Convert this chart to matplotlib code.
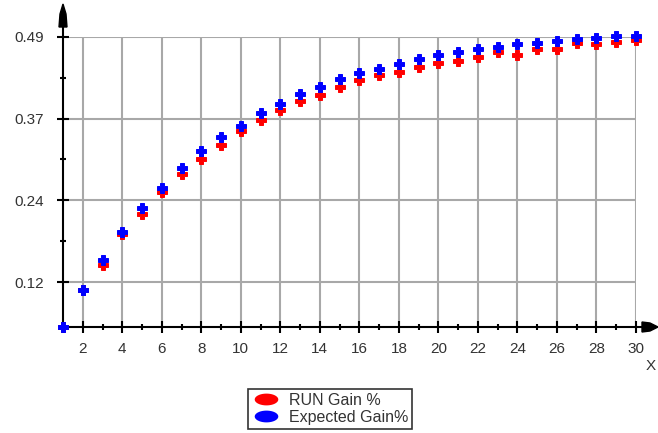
import numpy as np
import matplotlib
matplotlib.use("Agg")
import matplotlib.pyplot as plt
from matplotlib.lines import Line2D
from matplotlib.path import Path
from matplotlib.patches import Polygon

plt.rcParams['font.family'] = ['Liberation Sans', 'DejaVu Sans']

# data
x_vals = list(range(1, 31))
run_gain = [0.055, 0.110, 0.148, 0.194, 0.224, 0.257, 0.284, 0.307, 0.328, 0.349,
            0.365, 0.380, 0.394, 0.403, 0.415, 0.425, 0.433, 0.4375, 0.445, 0.451,
            0.454, 0.460, 0.4675, 0.463, 0.472, 0.472, 0.481, 0.4795, 0.4825, 0.4855]
expected_gain = [0.055, 0.110, 0.155, 0.197, 0.233, 0.263, 0.293, 0.319, 0.340, 0.3565,
                 0.376, 0.390, 0.404, 0.415, 0.427, 0.436, 0.442, 0.4495, 0.457, 0.463,
                 0.4675, 0.472, 0.475, 0.4795, 0.481, 0.484, 0.487, 0.4885, 0.4915, 0.4915]
y_ticks = [0.1225, 0.245, 0.3675, 0.49]
y_tick_labels = ["0.12", "0.24", "0.37", "0.49"]
x_ticks = list(range(2, 31, 2))
series_names = ["RUN Gain %", "Expected Gain%"]

W, H = 658, 433
fig = plt.figure(figsize=(6.58, 4.33), dpi=100)
ax = fig.add_axes([63/W, 106/H, (636-63)/W, (327-37)/H])

ax.plot(x_vals, run_gain, linestyle='none', marker='P', markersize=6.5,
        color='#ff0000', markeredgewidth=0.7, clip_on=False, zorder=3)
ax.plot(x_vals, expected_gain, linestyle='none', marker='P', markersize=6.5,
        color='#0000ff', markeredgewidth=0.7, clip_on=False, zorder=4)

ax.set_xlim(1, 30)
ax.set_ylim(0.055, 0.49)
ax.set_xticks(x_ticks)
ax.set_xticks(range(1, 31), minor=True)
ax.set_yticks(y_ticks)
ax.set_yticklabels(y_tick_labels)
ax.set_yticks([0.18375, 0.30625, 0.42875], minor=True)

ax.grid(True, which='major', color='#a8a8a8', linewidth=1.5)
ax.set_axisbelow(True)
for s in ['top', 'right']:
    ax.spines[s].set_visible(False)
for s in ['left', 'bottom']:
    ax.spines[s].set_linewidth(1.5)
    ax.spines[s].set_color('black')

ax.tick_params(which='major', direction='inout', length=9, width=1.5,
               labelsize=11, labelcolor='#333333')
ax.tick_params(which='minor', direction='inout', length=5, width=1.5)
ax.tick_params(axis='y', which='major', pad=9)
ax.tick_params(axis='x', which='major', pad=6)

# arrow heads on the axes (figure pixels)
def px(pts):
    return [(x / W, 1 - y / H) for x, y in pts]

fig.add_artist(Line2D([63/W, 63/W], [1 - 37/H, 1 - 24/H], color='black', lw=1.5))
fig.add_artist(Polygon(px([(63, 4), (60, 14), (59, 27), (67, 27), (66, 14)]),
                       closed=True, facecolor='black', edgecolor='black',
                       transform=fig.transFigure))
fig.add_artist(Line2D([636/W, 645/W], [1 - 327/H, 1 - 327/H], color='black', lw=1.5))
fig.add_artist(Polygon(px([(658, 327), (650, 323), (642, 322), (642, 332), (650, 331)]),
                       closed=True, facecolor='black', edgecolor='black',
                       transform=fig.transFigure))
fig.text(651/W, 1 - 366/H, "X", fontsize=11, ha='center', va='center', color='#333333')

# legend with elliptic markers
t = np.linspace(0, 2 * np.pi, 40)
ellipse = Path(np.column_stack([np.cos(t), 0.5 * np.sin(t)]), closed=True)
handles = [Line2D([], [], linestyle='none', marker=ellipse, markersize=17,
                  color=c, markeredgewidth=0) for c in ['#ff0000', '#0000ff']]
leg = fig.legend(handles, series_names, loc='upper left',
                 bbox_to_anchor=(248/W, 1 - 389/H), fontsize=11.5,
                 frameon=True, fancybox=False, edgecolor='black',
                 handlelength=1.7, handletextpad=0.6, labelspacing=0.1,
                 borderpad=0.25, borderaxespad=0)
leg.get_frame().set_linewidth(1.2)
for txt in leg.get_texts():
    txt.set_color('#333333')

fig.savefig("out.png", dpi=100)
